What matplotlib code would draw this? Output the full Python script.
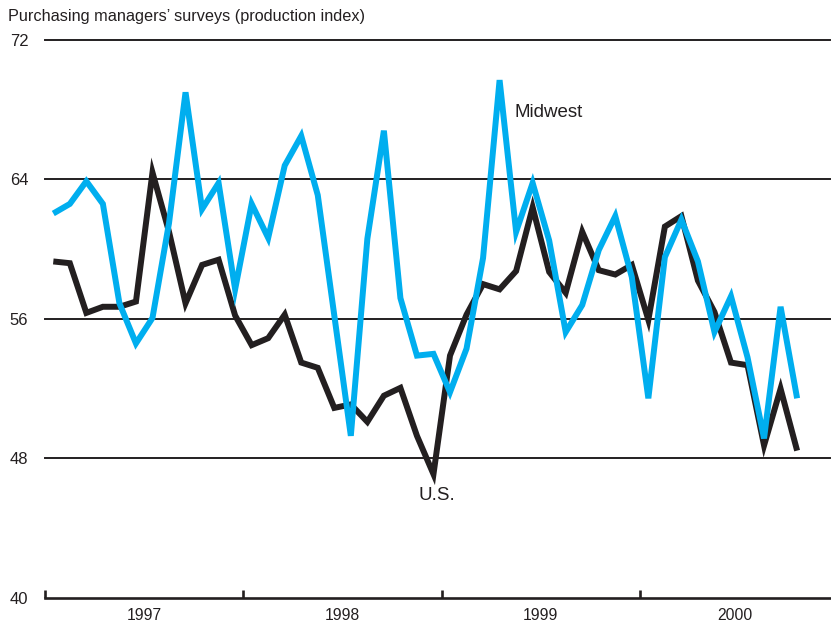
import matplotlib
matplotlib.use("Agg")
import matplotlib.pyplot as plt
import numpy as np

plt.rcParams['font.family'] = ['Liberation Sans', 'DejaVu Sans']

# monthly values, Jan 1997 - Oct 2000
us = [59.3, 59.2, 56.35, 56.7, 56.7, 57.0, 64.4, 61.0, 56.9, 59.1, 59.4, 56.2,
      54.5, 54.9, 56.25, 53.5, 53.2, 50.9, 51.1, 50.1, 51.6, 52.05, 49.3, 47.1,
      53.9, 56.25, 58.0, 57.7, 58.75, 62.4, 58.7, 57.5, 61.0, 58.8, 58.55, 59.1,
      55.95, 61.3, 61.9, 58.2, 56.4, 53.5, 53.35, 48.75, 52.0, 48.45]
midwest = [62.05, 62.6, 63.9, 62.6, 56.9, 54.6, 56.06, 61.5, 69.0, 62.3, 63.8, 57.7,
           62.6, 60.65, 64.8, 66.5, 63.1, 56.2, 49.3, 60.6, 66.8, 57.2, 53.9, 54.0,
           51.8, 54.3, 59.5, 69.7, 61.0, 63.8, 60.5, 55.25, 56.8, 59.95, 61.9, 58.4,
           51.45, 59.55, 61.7, 59.3, 55.25, 57.3, 53.8, 49.15, 56.7, 51.45]
years = ['1997', '1998', '1999', '2000']
yticks = [40, 48, 56, 64, 72]

dark = '#231F20'
blue = '#00AEEF'

fig = plt.figure(figsize=(8.31, 6.27), dpi=100)
ax = fig.add_axes([0.0542, 0.0463, 0.9446, 0.8899])

x = np.arange(len(us)) + 0.5
for v in yticks[1:]:
    ax.axhline(v, color=dark, lw=1.4, zorder=1, clip_on=False)

ax.plot(x, us, color=dark, lw=4.3, solid_joinstyle='miter', solid_capstyle='butt', zorder=3)
ax.plot(x, midwest, color=blue, lw=4.3, solid_joinstyle='miter', solid_capstyle='butt', zorder=4)

ax.set_xlim(0, 47.49)
ax.set_ylim(40, 72)

for s in ['top', 'right', 'left']:
    ax.spines[s].set_visible(False)
ax.spines['bottom'].set_color(dark)
ax.spines['bottom'].set_linewidth(1.9)

ax.set_yticks(yticks)
ax.set_yticklabels([str(v) for v in yticks], fontsize=12, color=dark)
ax.tick_params(axis='y', length=0, pad=12)

ax.set_xticks([0, 12, 24, 36])
ax.set_xticklabels([])
ax.tick_params(axis='x', which='major', direction='in', length=6, width=1.9, color=dark)
ax.set_xticks([6, 18, 30, 41.75], minor=True)
ax.set_xticklabels(years, minor=True, fontsize=11.3, color=dark)
ax.tick_params(axis='x', which='minor', length=0, pad=7)

ax.text(28.43, 67.87, 'Midwest', fontsize=13.5, color=dark, ha='left', va='center')
ax.text(23.71, 45.88, 'U.S.', fontsize=13.5, color=dark, ha='center', va='center')

fig.text(8 / 831, 1 - 17 / 627, 'Purchasing managers\u2019 surveys (production index)',
         fontsize=11.7, color=dark, ha='left', va='center')

fig.savefig('out.png', dpi=100)
